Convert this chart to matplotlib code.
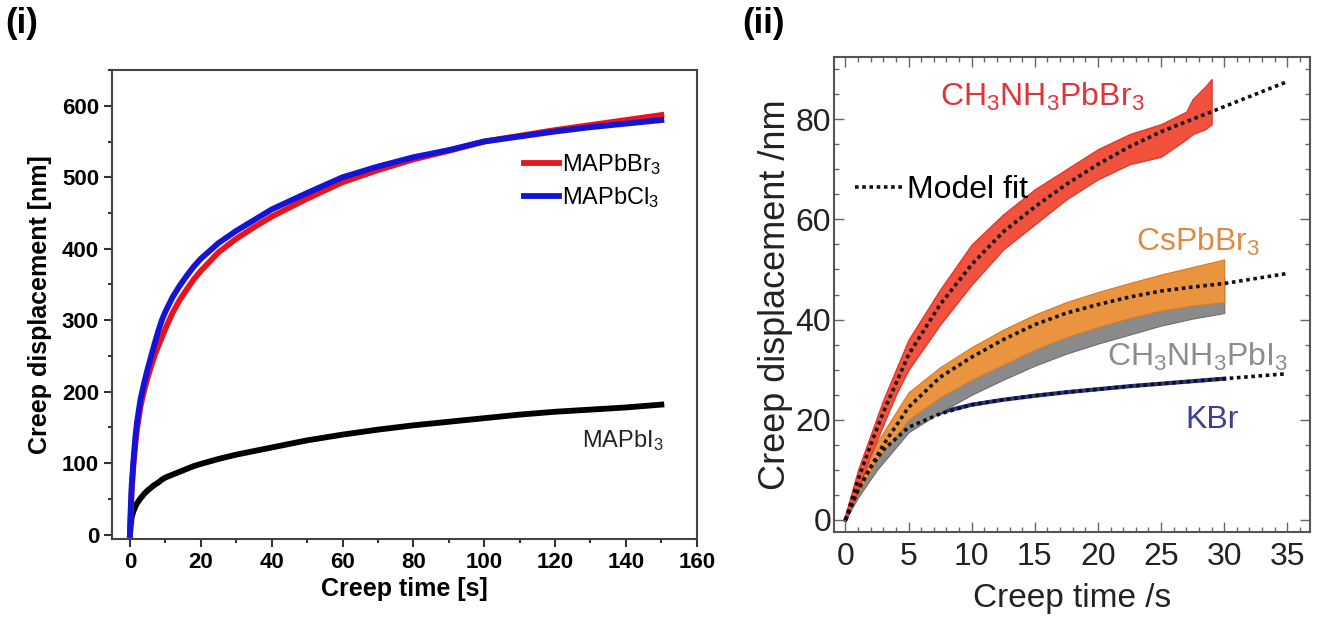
import matplotlib
matplotlib.use("Agg")
import matplotlib.pyplot as plt
from matplotlib.lines import Line2D
from matplotlib.ticker import MultipleLocator

plt.rcParams['font.family'] = ['Liberation Sans', 'DejaVu Sans']
plt.rcParams['mathtext.fontset'] = 'custom'
plt.rcParams['mathtext.rm'] = 'Liberation Sans'
plt.rcParams['mathtext.it'] = 'Liberation Sans:italic'
plt.rcParams['mathtext.bf'] = 'Liberation Sans:bold'
plt.rcParams['mathtext.default'] = 'regular'

# (i) creep curves, 150 s hold
t_left = [0, 0.25, 0.5, 1, 1.5, 2, 3, 4, 5, 6, 7, 8, 9, 10, 12, 14, 16, 18,
          20, 25, 30, 35, 40, 50, 60, 70, 80, 90, 100, 110, 120, 130, 140, 150]
mapbbr3 = [0, 35, 62, 98, 125, 148, 180, 202, 220, 236, 251, 264, 276, 288,
           310, 328, 343, 357, 369, 395, 414, 430, 445, 470, 493, 510, 525,
           537, 550, 558, 566, 573, 580, 587]
mapbcl3 = [0, 40, 70, 105, 135, 158, 190, 212, 232, 250, 268, 285, 300, 312,
           332, 348, 362, 375, 386, 408, 425, 440, 455, 478, 500, 515, 528,
           538, 550, 557, 564, 570, 575, 580]
mapbi3 = [0, 15, 25, 33, 39, 44, 51, 57, 62, 66, 70, 73, 77, 80, 84, 88, 92,
          96, 99, 106, 112, 117, 122, 132, 140, 147, 153, 158, 163, 168, 172,
          175, 178, 182]

# (ii) creep bands and model fits
t_red = [0, 1, 2, 3, 4, 5, 7.5, 10, 12.5, 15, 17.5, 20, 22.5, 25, 27, 27.5,
         28.5, 29]
red_lo = [0, 6, 13, 19, 25, 30, 39, 47, 54, 59, 64, 68, 71, 72.5, 76, 77,
          78, 79]
red_hi = [1, 10, 17, 24, 30, 36, 46, 55, 61, 66, 70, 74, 77, 79, 81.5, 84,
          86.5, 88]

t_band = [0, 1, 2.5, 5, 7.5, 10, 12.5, 15, 17.5, 20, 22.5, 25, 27.5, 30]
cs_lo = [0, 5.5, 12, 20, 24.5, 28, 31, 34, 36.5, 38.5, 40.3, 41.8, 42.8, 43.5]
cs_hi = [0.5, 7.5, 15.5, 25.5, 30.5, 34.5, 38, 41, 43.5, 45.5, 47.3, 49,
         50.5, 52]
mai_lo = [0, 4.5, 10, 17.5, 21.5, 25, 28, 30.8, 33.2, 35.2, 37, 38.8, 40.2,
          41.3]
mai_hi = [0.5, 7, 14, 23, 28, 32, 35.5, 38.5, 41, 43, 44.8, 46.3, 47.5, 48.5]

t_kbr = [0, 1, 2, 3, 4, 5, 6, 8, 10, 12.5, 15, 17.5, 20, 22.5, 25, 27.5, 30]
kbr = [0, 6, 10.5, 14, 16.5, 18.5, 20.2, 21.8, 23, 24, 24.8, 25.5, 26.1,
       26.7, 27.2, 27.7, 28.2]

t_fit = [0, 1, 2, 3, 5, 7.5, 10, 12.5, 15, 17.5, 20, 22.5, 25, 27.5, 30,
         32.5, 35]
fit_red = [0, 8, 15, 21.5, 33, 43, 51, 57.5, 62.5, 67, 71, 74.5, 77.5, 80,
           82.5, 85, 87.5]
fit_cs = [0, 6, 10.5, 15, 22.5, 28.5, 32.5, 36, 39, 41.3, 43, 44.5, 45.7,
          46.5, 47.2, 48.2, 49.2]
fit_kbr = [0, 6, 10.5, 14, 18.5, 21.2, 23, 24, 24.8, 25.5, 26.1, 26.7, 27.2,
           27.7, 28.2, 28.7, 29.2]

fig = plt.figure(figsize=(13.33, 6.24), dpi=100)

# ---- panel (i)
ax1 = fig.add_axes([0.0842, 0.1362, 0.4385, 0.7516])
ax1.plot(t_left, mapbi3, color='black', lw=4.2)
ax1.plot(t_left, mapbbr3, color='#e8141c', lw=4.2, label='MAPbBr$_3$')
ax1.plot(t_left, mapbcl3, color='#1414d8', lw=4.2, label='MAPbCl$_3$')
ax1.set_xlim(-5, 160)
ax1.set_ylim(-6, 650)
ax1.xaxis.set_major_locator(MultipleLocator(20))
ax1.xaxis.set_minor_locator(MultipleLocator(10))
ax1.yaxis.set_major_locator(MultipleLocator(100))
ax1.yaxis.set_minor_locator(MultipleLocator(50))
ax1.tick_params(which='both', direction='out', top=False, right=False,
                width=1.5, color='#333333')
ax1.tick_params(which='major', length=6, labelsize=16)
ax1.tick_params(which='minor', length=3)
for lab in ax1.get_xticklabels() + ax1.get_yticklabels():
    lab.set_fontweight('bold')
for sp in ax1.spines.values():
    sp.set_linewidth(1.5)
    sp.set_color('#444444')
ax1.set_xlabel('Creep time [s]', fontsize=18, fontweight='bold', labelpad=3)
ax1.set_ylabel('Creep displacement [nm]', fontsize=18, fontweight='bold',
               labelpad=7)
ax1.legend(loc='upper left', bbox_to_anchor=(0.705, 0.825), frameon=False,
           fontsize=17, handlelength=1.45, handletextpad=0.15,
           labelspacing=0.35, borderpad=0, borderaxespad=0)
ax1.text(150.5, 132, 'MAPbI$_3$', fontsize=17, ha='right', va='center',
         color='#222222')
fig.text(0.004, 0.962, '(i)', fontsize=25, fontweight='bold', va='center')

# ---- panel (ii)
ax2 = fig.add_axes([0.6257, 0.1474, 0.3571, 0.7612])
ax2.plot(t_kbr, kbr, color='#2a3391', lw=3, zorder=0.5)
ax2.fill_between(t_band, mai_lo, mai_hi, color='#8a8a8a', lw=0.8,
                 edgecolor='#6e6e6e', zorder=1)
ax2.fill_between(t_band, cs_lo, cs_hi, color='#ea9440', lw=0.8,
                 edgecolor='#d67a2a', zorder=3)
ax2.fill_between(t_red, red_lo, red_hi, color='#f0523e', lw=1.0,
                 edgecolor='#e23a2e', zorder=4)
for vals in (fit_red, fit_cs, fit_kbr):
    ax2.plot(t_fit, vals, color='#111111', lw=2.6, ls=(0, (1, 1)), zorder=5)

ax2.set_xlim(-0.9, 36.8)
ax2.set_ylim(-2.4, 92.4)
ax2.xaxis.set_major_locator(MultipleLocator(5))
ax2.xaxis.set_minor_locator(MultipleLocator(1))
ax2.yaxis.set_major_locator(MultipleLocator(20))
ax2.yaxis.set_minor_locator(MultipleLocator(5))
ax2.tick_params(which='both', direction='in', top=True, right=True,
                color='#666666', width=1.0, labelcolor='#222222')
ax2.tick_params(which='major', length=7, labelsize=23)
ax2.tick_params(axis='x', which='major', pad=7)
ax2.tick_params(axis='y', which='major', pad=2)
ax2.tick_params(which='minor', length=3.5)
for sp in ax2.spines.values():
    sp.set_linewidth(1.5)
    sp.set_color('#555555')
ax2.set_xlabel('Creep time /s', fontsize=24, color='#222222', labelpad=8)
ax2.set_ylabel('Creep displacement /nm', fontsize=26, color='#222222',
               labelpad=2)

fit_handle = Line2D([], [], color='#111111', lw=2.6, ls=(0, (1, 1)))
ax2.legend(handles=[fit_handle], labels=['Model fit'], loc='center left',
           bbox_to_anchor=(0.045, 0.72), frameon=False, fontsize=23,
           handlelength=1.5, handletextpad=0.1, borderpad=0, borderaxespad=0)

ax2.text(7.5, 84.5, 'CH$_3$NH$_3$PbBr$_3$', fontsize=23, color='#e2323a',
         va='center', zorder=6)
ax2.text(23, 55.5, 'CsPbBr$_3$', fontsize=23, color='#df8a44',
         va='center', zorder=6)
ax2.text(20.7, 32.5, 'CH$_3$NH$_3$PbI$_3$', fontsize=23, color='#8c8c8c',
         va='center', zorder=6)
ax2.text(26.9, 20, 'KBr', fontsize=23, color='#3b3f95', va='center', zorder=6)
fig.text(0.557, 0.962, '(ii)', fontsize=25, fontweight='bold', va='center')

fig.savefig('out.png', dpi=100)
